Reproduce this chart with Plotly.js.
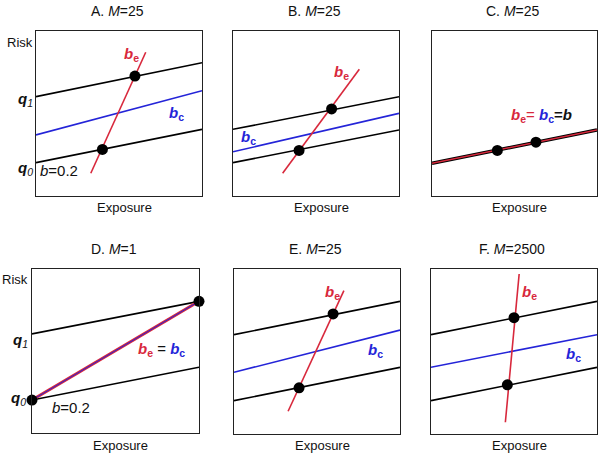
<!DOCTYPE html>
<html>
<head>
<meta charset="utf-8">
<script src="https://cdn.plot.ly/plotly-3.0.1.min.js"></script>
<style>
  html, body { margin: 0; padding: 0; background: #fff; }
  #plot { width: 600px; height: 454px; }
</style>
</head>
<body>
<div id="plot"></div>
<script>
// one entry per panel, A..F
var panelLetters = ['A', 'B', 'C', 'D', 'E', 'F'];
var panelM = ['25', '25', '25', '1', '25', '2500'];
// black lines q1 / q0: [risk at exposure 0, risk at exposure 1], null = not drawn
var q1Ends = [[0.602, 0.808], [0.404, 0.602], null, [0.604, 0.803], [0.602, 0.804], [0.602, 0.804]];
var q0Ends = [[0.202, 0.404], [0.202, 0.400], [0.198, 0.400], [0.201, 0.401], [0.202, 0.404], [0.202, 0.404]];
// blue bc line: [risk at 0, risk at 1]
var bcEnds = [[0.370, 0.638], [0.268, 0.501], null, [0.201, 0.803], [0.374, 0.630], [0.404, 0.602]];
// red be line: [x0, y0, x1, y1]
var beEnds = [
    [0.330, 0.138, 0.661, 0.871],
    [0.299, 0.138, 0.761, 0.768],
    [0.000, 0.198, 1.000, 0.400],
    [0.000, 0.201, 1.000, 0.803],
    [0.326, 0.138, 0.662, 0.869],
    [0.448, 0.071, 0.531, 0.970]
];
// black dots
var dotX = [[0.400, 0.596], [0.398, 0.594], [0.396, 0.630], [0.000, 1.000], [0.392, 0.597], [0.460, 0.500]];
var dotY = [[0.282, 0.727], [0.276, 0.528], [0.276, 0.326], [0.201, 0.803], [0.280, 0.728], [0.298, 0.705]];

var RED = '#d8283c';
var BLUE = '#2424d8';
var W = 600, H = 454;
var FONT = 'Liberation Sans, Arial, sans-serif';

// box of each panel in pixels: [left, right, top, bottom]
var boxes = [
    [36, 202, 31, 196], [233, 399, 31, 196], [432, 597, 31, 196],
    [32, 199, 269, 433], [234, 400, 269, 434], [431, 597, 269, 434]
];

function px(x) { return x / W; }
function py(y) { return 1 - y / H; }

var data = [];
var layout = {
    width: W, height: H,
    margin: {l: 0, r: 0, t: 0, b: 0},
    paper_bgcolor: '#fff', plot_bgcolor: '#fff',
    showlegend: false,
    hovermode: false,
    font: {family: FONT, color: '#111'},
    annotations: []
};

function line(i, x, y, color, width) {
    var s = i === 0 ? '' : String(i + 1);
    data.push({x: x, y: y, xaxis: 'x' + s, yaxis: 'y' + s, mode: 'lines', type: 'scatter',
        line: {color: color, width: width}, cliponaxis: true});
}

function note(x, y, text, size, color) {
    layout.annotations.push({xref: 'paper', yref: 'paper', x: px(x), y: py(y), text: text,
        showarrow: false, xanchor: 'center', yanchor: 'middle',
        font: {family: FONT, size: size, color: color || '#111'}});
}

panelLetters.forEach(function (letter, i) {
    var s = i === 0 ? '' : String(i + 1);
    var b = boxes[i];
    var axis = {range: [0, 1], showline: true, mirror: true, linecolor: '#222', linewidth: 1,
        showticklabels: false, ticks: '', showgrid: false, zeroline: false, fixedrange: true};
    layout['xaxis' + s] = Object.assign({}, axis, {domain: [px(b[0]), px(b[1])], anchor: 'y' + s});
    layout['yaxis' + s] = Object.assign({}, axis, {domain: [py(b[3]), py(b[2])], anchor: 'x' + s});

    var be = beEnds[i];
    if (i === 2) {
        // C: all three slopes coincide
        line(i, [0, 1], q0Ends[i], '#000', 3.5);
        line(i, [be[0], be[2]], [be[1], be[3]], RED, 1.5);
    } else {
        if (q1Ends[i]) line(i, [0, 1], q1Ends[i], '#000', 1.6);
        line(i, [0, 1], q0Ends[i], '#000', 1.6);
        if (i === 3) {
            line(i, [be[0], be[2]], [be[1], be[3]], RED, 3);
            line(i, [0, 1], bcEnds[i], BLUE, 1);
        } else {
            line(i, [0, 1], bcEnds[i], BLUE, 1.6);
            line(i, [be[0], be[2]], [be[1], be[3]], RED, 1.6);
        }
    }
    data.push({x: dotX[i], y: dotY[i], xaxis: 'x' + s, yaxis: 'y' + s, mode: 'markers', type: 'scatter',
        marker: {color: '#000', size: 11}, cliponaxis: false});

    var row1 = i < 3;
    note((b[0] + b[1]) / 2 - 2, row1 ? 11 : 249, letter + '. <i>M</i>=' + panelM[i], 14);
    note((b[0] + b[1]) / 2 + 5, row1 ? 207 : 445, 'Exposure', 13);
});

var beTxt = '<b><i>b</i><sub>e</sub></b>';
var bcTxt = '<b><i>b</i><sub>c</sub></b>';
var q1Txt = '<b><i>q</i></b><sub><i>1</i></sub>';
var q0Txt = '<b><i>q</i></b><sub><i>0</i></sub>';

note(20, 42, 'Risk', 13);
note(25, 99, q1Txt, 15);
note(25, 168, q0Txt, 15);
note(59, 170, '<i>b</i>=0.2', 15);
note(131, 55, beTxt, 15, RED);
note(176, 113, bcTxt, 15, BLUE);

note(341, 72, beTxt, 15, RED);
note(248, 137, bcTxt, 15, BLUE);

note(541, 115, '<span style="color:' + RED + '">' + beTxt + '=</span> <span style="color:' + BLUE + '">' + bcTxt + '</span><b>=<i>b</i></b>', 15);

note(15, 279, 'Risk', 13);
note(20, 340, q1Txt, 15);
note(18, 398, q0Txt, 15);
note(71, 407, '<i>b</i>=0.2', 15);
note(161, 349, '<span style="color:' + RED + '">' + beTxt + '</span> = <span style="color:' + BLUE + '">' + bcTxt + '</span>', 15);

note(332, 292, beTxt, 15, RED);
note(375, 350, bcTxt, 15, BLUE);

note(529, 292, beTxt, 15, RED);
note(573, 354, bcTxt, 15, BLUE);

Plotly.newPlot('plot', data, layout, {staticPlot: true, displayModeBar: false});
</script>
</body>
</html>
